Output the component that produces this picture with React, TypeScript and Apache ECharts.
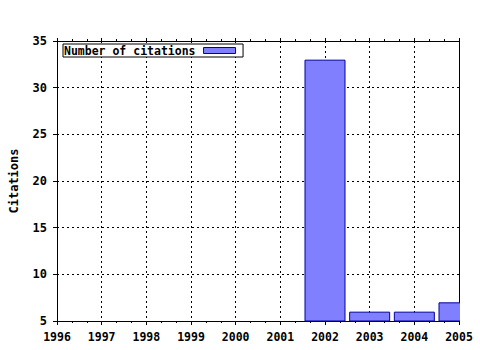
import React, { useEffect, useRef } from "react";
import * as echarts from "echarts";

const years = [1996, 1997, 1998, 1999, 2000, 2001, 2002, 2003, 2004, 2005];
const citationYears = [2002, 2003, 2004, 2005];
const citationValues = [33, 6, 6, 7];
const seriesName = "Number of citations";
const yAxisName = "Citations";

const FONT = "DejaVu Sans Mono";

export default function App() {
  const ref = useRef<HTMLDivElement>(null);
  useEffect(() => {
    if (!ref.current) return;
    const chart = echarts.init(ref.current, null, { renderer: "svg" });
    const labelStyle = { fontFamily: FONT, fontWeight: "bold" as const, fontSize: 11, color: "#000" };
    chart.setOption({
      animation: false,
      backgroundColor: "#fff",
      grid: { left: 57, right: 21, top: 41, bottom: 29 },
      legend: {
        left: 63,
        top: 44,
        orient: "horizontal",
        align: "right",
        backgroundColor: "#fff",
        borderColor: "#000",
        borderWidth: 1,
        borderRadius: 0,
        padding: [0, 7, 0, 1],
        itemWidth: 32,
        itemHeight: 6,
        icon: "rect",
        itemStyle: { borderWidth: 1 },
        textStyle: { ...labelStyle, fontSize: 11.5, lineHeight: 13, padding: [0, 3, 0, 0] },
        data: [seriesName],
      },
      graphic: [
        {
          type: "rect",
          shape: { x: 460, y: 30, width: 20, height: 292 },
          style: { fill: "#fff" },
          z: 50,
        },
      ],
      xAxis: [
        {
          type: "value",
          min: years[0],
          max: years[years.length - 1],
          interval: 1,
          axisLine: { show: true, onZero: false, lineStyle: { color: "#000", width: 1 } },
          axisTick: { show: true, length: 4, lineStyle: { color: "#000" } },
          minorTick: { show: true, splitNumber: 3, length: 2, lineStyle: { color: "#000" } },
          axisLabel: { ...labelStyle, fontSize: 11.5, margin: 10, formatter: (v: number) => String(v) },
          splitLine: { show: true, lineStyle: { color: "#000", type: [2, 3], width: 1 } },
        },
        {
          type: "value",
          position: "top",
          min: years[0],
          max: years[years.length - 1],
          interval: 1,
          axisLine: { show: true, onZero: false, lineStyle: { color: "#000", width: 1 } },
          axisTick: { show: true, length: 3, lineStyle: { color: "#000" } },
          minorTick: { show: true, splitNumber: 3, length: 2, lineStyle: { color: "#000" } },
          axisLabel: { show: false },
          splitLine: { show: false },
        },
      ],
      yAxis: [
        {
          type: "value",
          min: 5,
          max: 35,
          interval: 5,
          name: yAxisName,
          nameLocation: "middle",
          nameGap: 37,
          nameRotate: 90,
          nameTextStyle: { ...labelStyle, fontSize: 12 },
          axisLine: { show: true, onZero: false, lineStyle: { color: "#000", width: 1 } },
          axisTick: { show: true, length: 4, lineStyle: { color: "#000" } },
          axisLabel: { ...labelStyle, fontSize: 12, margin: 10 },
          splitLine: { show: true, lineStyle: { color: "#000", type: [2, 3], width: 1 } },
        },
        {
          type: "value",
          position: "right",
          min: 5,
          max: 35,
          interval: 5,
          axisLine: { show: true, onZero: false, lineStyle: { color: "#000", width: 1 } },
          axisTick: { show: false },
          axisLabel: { show: false },
          splitLine: { show: false },
        },
      ],
      series: [
        {
          name: seriesName,
          type: "bar",
          xAxisIndex: 0,
          yAxisIndex: 0,
          barWidth: 41,
          clip: true,
          itemStyle: { color: "#8080ff", borderColor: "#0000a0", borderWidth: 1 },
          data: citationYears.map((y, i) => [y, citationValues[i]]),
        },
      ],
    });
    return () => chart.dispose();
  }, []);
  return <div ref={ref} style={{ width: 480, height: 350, position: "absolute", left: 0, top: 0 }} />;
}
